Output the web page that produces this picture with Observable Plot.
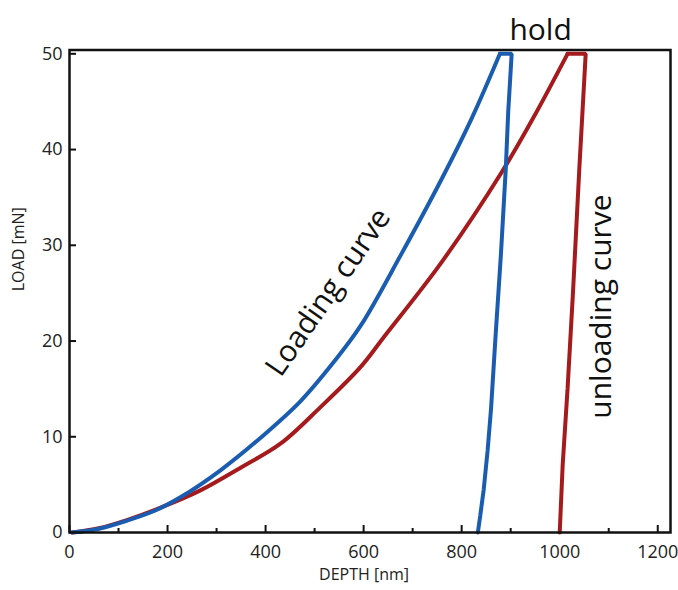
<!DOCTYPE html>
<html>
<head>
<meta charset="utf-8">
<script src="https://cdn.jsdelivr.net/npm/d3@7"></script>
<script src="https://cdn.jsdelivr.net/npm/@observablehq/plot@0.6"></script>
<style>
  body { margin: 0; background: #fff; }
  #chart svg { display: block; }
</style>
</head>
<body>
<div id="chart"></div>
<script>
// Blue indentation curve: loading, then hold + unloading
const blueLoadDepth = [5, 60, 118, 175, 227, 308, 390, 471, 539, 594, 676, 760, 820, 878];
const blueLoadLoad  = [0, 0.4, 1.25, 2.3, 3.7, 6.5, 9.9, 13.7, 17.8, 21.6, 29, 37, 43.2, 50];
const blueUnloadDepth = [878, 902, 895, 890, 880, 869, 860, 853, 845, 838, 833];
const blueUnloadLoad  = [50, 50, 44, 38, 29, 20.4, 13, 8.6, 4.5, 1.8, 0];

// Red indentation curve: loading, then hold + unloading
const redLoadDepth = [5, 60, 120, 186, 267, 350, 431, 512, 594, 641, 760, 880, 947, 1016];
const redLoadLoad  = [0, 0.45, 1.35, 2.6, 4.4, 6.8, 9.3, 13.1, 17.3, 20.4, 28.3, 37.5, 43.4, 50];
const redUnloadDepth = [1016, 1053, 1040, 1027, 1016, 1006, 1000];
const redUnloadLoad  = [50, 50, 38, 25, 15, 7, 0];

// Tick values
const xTicksMajor = [0, 200, 400, 600, 800, 1000, 1200];
const xTicksMinor = [100, 300, 500, 700, 900, 1100];
const yTicks = [0, 10, 20, 30, 40, 50];

// Annotations
const annotations = [
  {x: 961, y: 51.47, text: "hold", rotate: 0, anchor: "bottom"},
  {x: 528, y: 25.1, text: "Loading curve", rotate: -55.5, anchor: "middle"},
  {x: 1085, y: 23.6, text: "unloading curve", rotate: -90, anchor: "middle"}
];

const zip = (xs, ys) => xs.map((d, i) => ({depth: d, load: ys[i]}));
const blueLoading = zip(blueLoadDepth, blueLoadLoad);
const blueUnloading = zip(blueUnloadDepth, blueUnloadLoad);
const redLoading = zip(redLoadDepth, redLoadLoad);
const redUnloading = zip(redUnloadDepth, redUnloadLoad);

const BLUE = "#1a5db0", RED = "#a51b1d";
const W = 678, H = 590, ML = 69, MR = 8, MT = 49.5, MB = 58;
const frameW = W - ML - MR, frameH = H - MT - MB;

const chart = Plot.plot({
  width: W,
  height: H,
  marginLeft: ML,
  marginRight: MR,
  marginTop: MT,
  marginBottom: MB,
  x: {domain: [0, 1226], label: null},
  y: {domain: [0, 50.4], label: null},
  style: {fontFamily: "'Open Sans', sans-serif", background: "#fff", color: "#222"},
  marks: [
    // inward ticks
    Plot.ruleX(xTicksMinor, {x: d => d, insetTop: frameH - 4, stroke: "#111", strokeWidth: 2}),
    Plot.ruleX(xTicksMajor, {x: d => d, insetTop: frameH - 7, stroke: "#111", strokeWidth: 2}),
    Plot.ruleY(yTicks, {y: d => d, insetRight: frameW - 7, stroke: "#111", strokeWidth: 2}),
    // tick labels
    Plot.axisX(xTicksMajor, {tickSize: 0, tickPadding: 13, fontSize: 18, label: null, fill: "#222", tickFormat: d => String(d)}),
    Plot.axisY(yTicks, {tickSize: 0, tickPadding: 7, fontSize: 18, label: null, fill: "#222", tickFormat: d => String(d)}),
    // curves
    Plot.line(redLoading, {x: "depth", y: "load", stroke: RED, strokeWidth: 4, curve: "catmull-rom"}),
    Plot.line(redUnloading, {x: "depth", y: "load", stroke: RED, strokeWidth: 4, curve: "linear", strokeLinejoin: "miter"}),
    Plot.line(blueLoading, {x: "depth", y: "load", stroke: BLUE, strokeWidth: 4, curve: "catmull-rom"}),
    Plot.line(blueUnloading, {x: "depth", y: "load", stroke: BLUE, strokeWidth: 4, curve: "linear", strokeLinejoin: "miter"}),
    Plot.frame({stroke: "#111", strokeWidth: 2.5}),
    // annotations
    Plot.text(annotations.filter(d => d.anchor === "bottom"), {x: "x", y: "y", text: "text", rotate: "rotate", fontSize: 30, lineAnchor: "bottom", fill: "#111"}),
    Plot.text(annotations.filter(d => d.anchor === "middle"), {x: "x", y: "y", text: "text", rotate: "rotate", fontSize: 30, lineAnchor: "middle", fill: "#111"}),
    // axis titles
    Plot.text(["DEPTH [nm]"], {frameAnchor: "bottom", dy: 47, dx: -6, fontSize: 16, fill: "#222"}),
    Plot.text(["LOAD [mN]"], {frameAnchor: "left", dx: -51, rotate: -90, fontSize: 16, fill: "#222"})
  ]
});

document.getElementById("chart").appendChild(chart);
</script>
</body>
</html>
